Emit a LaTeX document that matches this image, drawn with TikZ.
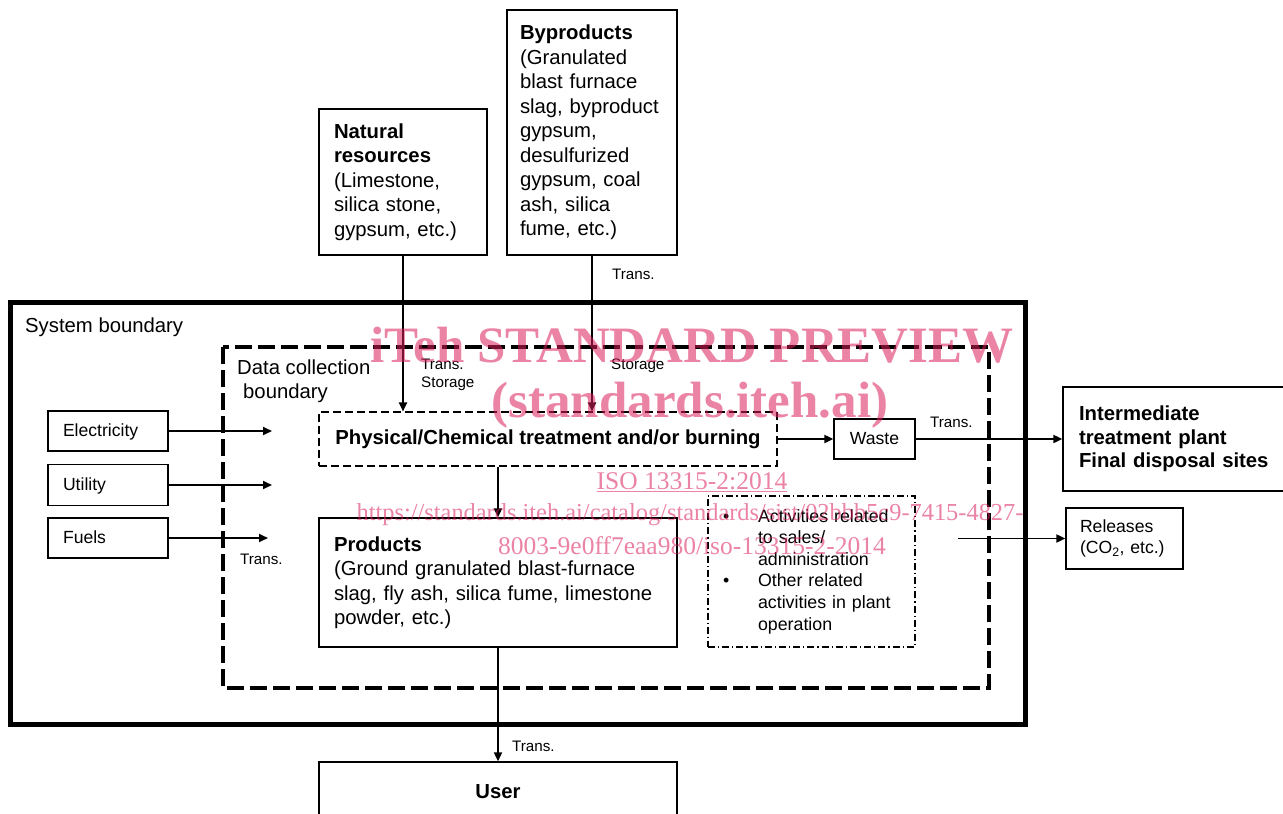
\documentclass[tikz,border=0pt]{standalone}
\usepackage{fontspec}
\setmainfont{Liberation Sans}
\newfontfamily\wmfont{Liberation Serif}
\usetikzlibrary{arrows.meta}
\newcommand\mainf{\fontsize{20.3}{24.5}\selectfont}
\newcommand\midf{\fontsize{17.6}{21.6}\selectfont}
\newcommand\smallf{\fontsize{15.2}{18}\selectfont}
\definecolor{wm}{RGB}{220,30,90}
\begin{document}
\begin{tikzpicture}[x=1pt,y=-1pt,
  every node/.style={font=\mainf, inner sep=0pt},
  box/.style={draw, line width=1.3pt},
  tbox/.style={box, align=left},
  arr/.style={line width=1.9pt, -{Triangle[length=9pt,width=8pt]}},
  lab/.style={font=\smallf, anchor=west, align=left},
  wmtext/.style={text=wm, opacity=0.55, font=\wmfont}
]
\useasboundingbox (0,0) rectangle (1283,814);
\fill[white] (0,0) rectangle (1283,814);

% boundaries
\draw[line width=5pt] (10,302) rectangle (1025,724);
\draw[line width=4.5pt, dash pattern=on 17pt off 6pt] (223,347) rectangle (989,688);
\node[anchor=west] (sysb) at (25,327) {System boundary};
\node[anchor=west, align=left] (dcb) at (237,381) {Data collection\\\hspace*{6pt}boundary};

% inputs from outside
\node[tbox, minimum width=168pt, minimum height=146pt, text width=138pt, inner xsep=15pt] (nat) at (403,182)
  {\textbf{Natural}\\\textbf{resources}\\(Limestone,\\silica stone,\\gypsum, etc.)};
\node[tbox, minimum width=170pt, minimum height=245pt, text width=144pt, inner xsep=13pt] (byp) at (592,132.5)
  {\textbf{Byproducts}\\(Granulated\\blast furnace\\slag, byproduct\\gypsum,\\desulfurized\\gypsum, coal\\ash, silica\\fume, etc.)};

\node[tbox, font=\midf, minimum width=120pt, minimum height=40pt, text width=90pt, inner xsep=15pt, text height=12.5pt, text depth=1pt] (elec) at (108,431) {Electricity};
\node[tbox, font=\midf, minimum width=120pt, minimum height=41pt, text width=90pt, inner xsep=15pt, text height=12.5pt, text depth=1pt] (util) at (108,485) {Utility};
\node[tbox, font=\midf, minimum width=120pt, minimum height=40pt, text width=90pt, inner xsep=15pt, text height=12.5pt, text depth=1pt] (fuel) at (108,538) {Fuels};

% process
\node[draw, line width=1.1pt, dash pattern=on 8pt off 4pt, minimum width=458pt, minimum height=54pt] (phys) at (548,439)
  {\textbf{Physical/Chemical treatment and/or burning}};
\node[tbox, minimum width=358pt, minimum height=129pt, text width=328pt, inner xsep=15pt] (prod) at (498,582.5)
  {\textbf{Products}\\(Ground granulated blast-furnace\\slag, fly ash, silica fume, limestone\\powder, etc.)};
\node[box, minimum width=358pt, minimum height=60pt] (user) at (498,792) {\textbf{User}};

\node[box, font=\midf, minimum width=81pt, minimum height=40pt] (waste) at (874.5,439) {Waste};
\node[tbox, minimum width=240pt, minimum height=104pt, text width=208pt, inner xsep=16pt, font=\fontsize{20.3}{23.5}\selectfont] (inter) at (1183,439)
  {\textbf{Intermediate}\\\textbf{treatment plant}\\\textbf{Final disposal sites}};
\node[tbox, minimum width=117pt, minimum height=61pt, text width=89pt, inner xsep=14pt, font=\fontsize{17.6}{21}\selectfont] (rel) at (1124.5,538.5)
  {Releases\\(CO\textsubscript{2}, etc.)};

\node[draw, line width=1.1pt, dash pattern=on 7pt off 3pt on 1.2pt off 3pt, align=left, minimum width=207pt, minimum height=151pt, text width=177pt, inner xsep=15pt, font=\fontsize{17.8}{21.6}\selectfont] (act) at (811.5,571.5)
  {\makebox[35pt][l]{•}Activities related\\\hspace*{35pt}to sales/\\\hspace*{35pt}administration\\\makebox[35pt][l]{•}Other related\\\hspace*{35pt}activities in plant\\\hspace*{35pt}operation};

% free ends
\coordinate (e1) at (272,431);
\coordinate (u1) at (272,485);
\coordinate (f1) at (268,538);
\coordinate (r0) at (958,538.5);

% connectors
\draw[arr] (elec.east) -- (e1);
\draw[arr] (util.east) -- (u1);
\draw[arr] (fuel.east) -- (f1);
\draw[arr] (nat.south) -- (nat.south |- phys.north);
\draw[arr] (byp.south) -- (byp.south |- phys.north);
\draw[arr] (prod.north |- phys.south) -- (prod.north);
\draw[arr] (prod.south) -- (user.north);
\draw[arr] (phys.east) -- (waste.west);
\draw[arr] (waste.east) -- (inter.west);
\draw[arr] (r0) -- (rel.west);

% labels
\node[lab] (t1) at (240,559) {Trans.};
\node[lab] (t2) at (612,274) {Trans.};
\node[lab] (t3) at (421,375) {Trans.\\Storage};
\node[lab] (t4) at (611,366) {Storage};
\node[lab] (t5) at (930,422) {Trans.};
\node[lab] (t6) at (512,746) {Trans.};

% watermark
\node[wmtext, font=\wmfont\bfseries\fontsize{51}{51}\selectfont] (wm1) at (692,345) {iTeh STANDARD PREVIEW};
\node[wmtext, font=\wmfont\bfseries\fontsize{51}{51}\selectfont] (wm2) at (690,405) {(standards.iteh.ai)};
\node[wmtext, font=\wmfont\fontsize{25.5}{26}\selectfont] (wm3) at (692,482) {\underline{ISO 13315-2:2014}};
\node[wmtext, font=\wmfont\fontsize{24.4}{26}\selectfont] (wm4) at (690,515) {https://standards.iteh.ai/catalog/standards/sist/02bbb5c9-7415-4827-};
\node[wmtext, font=\wmfont\fontsize{25.5}{26}\selectfont] (wm5) at (692,546) {8003-9e0ff7eaa980/iso-13315-2-2014};
\end{tikzpicture}
\end{document}
